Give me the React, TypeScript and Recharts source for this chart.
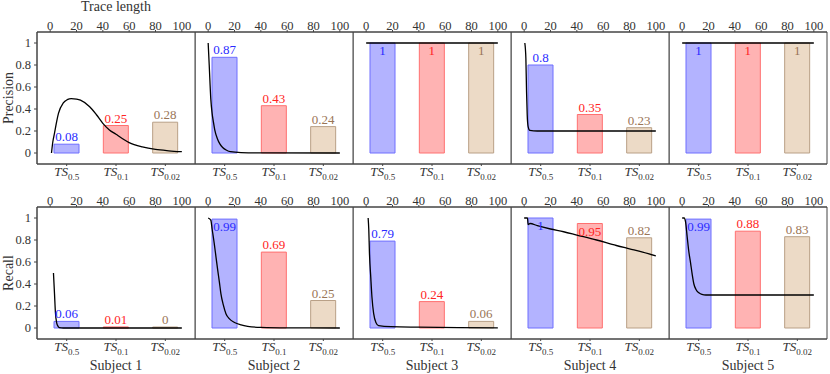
import React from 'react';
import { ComposedChart, Bar, Line, XAxis, YAxis, Cell, LabelList, ReferenceArea } from 'recharts';

const subjects = ['Subject 1', 'Subject 2', 'Subject 3', 'Subject 4', 'Subject 5'];
const thresholds = ['0.5', '0.1', '0.02'];
const traceTicks = [0, 20, 40, 60, 80, 100];
const valueTicks = [0, 0.2, 0.4, 0.6, 0.8, 1];

// bar heights per subject: TS_0.5, TS_0.1, TS_0.02
const precision = [
  [0.08, 0.25, 0.28],
  [0.87, 0.43, 0.24],
  [1, 1, 1],
  [0.8, 0.35, 0.23],
  [1, 1, 1],
];
const recall = [
  [0.06, 0.01, 0],
  [0.99, 0.69, 0.25],
  [0.79, 0.24, 0.06],
  [1, 0.95, 0.82],
  [0.99, 0.88, 0.83],
];

// curves over trace length: [trace length, value]
const precisionCurves = [
  [[1, 0], [2, 0.1], [3.3, 0.18], [5, 0.29], [6.3, 0.36], [10, 0.455], [13, 0.485], [16, 0.495], [20, 0.49], [23, 0.48],
   [30, 0.42], [35, 0.35], [40, 0.27], [45, 0.21], [50, 0.17], [55, 0.13], [60, 0.095], [70, 0.055], [80, 0.032], [90, 0.02], [100, 0.012]],
  [[0, 1], [0.8, 0.8], [2, 0.49], [3, 0.36], [4, 0.28], [5, 0.21], [7, 0.13], [9, 0.08], [11, 0.05], [14, 0.025],
   [17, 0.012], [25, 0.004], [40, 0.001], [100, 0]],
  [[0, 1], [50, 1], [100, 1]],
  [[0.5, 1], [1.3, 0.86], [1.8, 0.56], [2.3, 0.35], [3, 0.24], [4.3, 0.205], [10, 0.2], [100, 0.2]],
  [[0, 1], [50, 1], [100, 1]],
];
const recallCurves = [
  [[2.5, 0.5], [3.3, 0.31], [4, 0.14], [5, 0.045], [6, 0.015], [7, 0.004], [10, 0], [100, 0]],
  [[0, 1], [2, 0.98], [3, 0.9], [4.6, 0.77], [6, 0.64], [7.2, 0.53], [8.5, 0.42], [9.7, 0.31], [11.5, 0.21], [13.5, 0.13],
   [16, 0.085], [20, 0.05], [25, 0.028], [30, 0.015], [40, 0.005], [60, 0.001], [100, 0]],
  [[1.5, 1], [2, 0.89], [2.5, 0.68], [3.5, 0.46], [4.4, 0.28], [5.7, 0.13], [7.4, 0.05], [9.4, 0.022], [19, 0.012],
   [40, 0.008], [70, 0.004], [100, 0.002]],
  [[0, 1], [2.5, 1], [3, 0.94], [4.5, 0.95], [10, 0.93], [20, 0.9], [30, 0.875], [40, 0.845], [55, 0.8], [70, 0.75],
   [80, 0.72], [90, 0.69], [100, 0.655]],
  [[0, 1], [1.5, 1], [2.5, 0.97], [3.8, 0.83], [5, 0.7], [6.4, 0.59], [7.6, 0.49], [8.9, 0.4], [10.5, 0.35], [12.7, 0.32],
   [15, 0.305], [18, 0.3], [100, 0.3]],
];

const FONT = '"Liberation Serif", "DejaVu Serif", serif';
const TXT = '#333';
const AXIS = '#444';
const fills = ['#b3b3ff', '#ffb3b3', '#ecdac6'];
const strokes = ['#6f6fff', '#ff7070', '#b9a087'];
const labelColors = ['#2a2aff', '#ff2525', '#9a7556'];

const PLOT_W = 158;
const PLOT_H = 132;
const LEFT = 37;
const TOP_H = [32, 22];
const BOTTOM_H = [21, 35];
const X_DOMAIN = [-10, 110];
const Y_DOMAIN = [-0.1, 1.1];

const lineStyle = { stroke: AXIS, strokeWidth: 1 };

const ThresholdTick = (props: any) => {
  const { x, y, payload } = props;
  return (
    <text x={x} y={y + 10} textAnchor="middle" fill={TXT} fontFamily={FONT}>
      <tspan fontStyle="italic" fontSize={13}>TS</tspan>
      <tspan fontSize={9} dy={3.5}>{payload.value}</tspan>
    </text>
  );
};

const ValueLabel = (props: any) => {
  const vb = props.viewBox || props;
  const { x, y, width } = vb;
  const inside = Number(props.value) >= 0.95;
  return (
    <text
      x={x + width / 2}
      y={inside ? y + 12 : y - 3}
      textAnchor="middle"
      fill={labelColors[props.index]}
      fontSize={13}
      fontFamily={FONT}
    >
      {String(props.value)}
    </text>
  );
};

const Panel = ({ row, col }: { row: number; col: number }) => {
  const values = (row === 0 ? precision : recall)[col];
  const curve = (row === 0 ? precisionCurves : recallCurves)[col].map(([x, y]) => ({ x, y }));
  const bars = thresholds.map((t, i) => ({ name: t, v: values[i] }));
  const first = col === 0;
  const width = (first ? LEFT : 0) + PLOT_W + 1;
  const height = TOP_H[row] + PLOT_H + BOTTOM_H[row];

  return (
    <div style={{ position: 'absolute', left: first ? 0 : LEFT + col * PLOT_W, top: row === 0 ? 0 : 185 }}>
      <ComposedChart width={width} height={height} data={bars} margin={{ top: 0, right: 1, bottom: 0, left: 0 }}>
        <XAxis
          xAxisId="trace"
          type="number"
          dataKey="x"
          orientation="top"
          domain={X_DOMAIN}
          allowDataOverflow
          ticks={traceTicks}
          interval={0}
          height={TOP_H[row]}
          axisLine={lineStyle}
          tickLine={lineStyle}
          tickSize={2}
          tickMargin={0}
          tick={{ fill: TXT, fontSize: 12.5, fontFamily: FONT }}
          label={row === 0 && first
            ? { value: 'Trace length', position: 'insideTop', offset: 1, fill: TXT, fontSize: 14, fontFamily: FONT }
            : undefined}
        />
        <XAxis
          xAxisId="cat"
          dataKey="name"
          orientation="bottom"
          height={BOTTOM_H[row]}
          padding={{ left: 5, right: 5 }}
          interval={0}
          axisLine={lineStyle}
          tickLine={lineStyle}
          tickSize={2}
          tickMargin={0}
          tick={<ThresholdTick />}
          label={row === 1
            ? { value: subjects[col], position: 'insideBottom', offset: 4, fill: TXT, fontSize: 14, fontFamily: FONT }
            : undefined}
        />
        <YAxis
          yAxisId="v"
          type="number"
          domain={Y_DOMAIN}
          allowDataOverflow
          ticks={valueTicks}
          interval={0}
          width={first ? LEFT : 0}
          mirror={!first}
          axisLine={lineStyle}
          tickLine={lineStyle}
          tickSize={3}
          tickMargin={3}
          tick={first ? { fill: TXT, fontSize: 12.5, fontFamily: FONT } : false}
          label={first
            ? {
                value: row === 0 ? 'Precision' : 'Recall',
                angle: -90,
                position: 'insideLeft',
                offset: 8,
                style: { textAnchor: 'middle' },
                fill: TXT,
                fontSize: 14,
                fontFamily: FONT,
              }
            : undefined}
        />
        <YAxis
          yAxisId="r"
          orientation="right"
          type="number"
          domain={Y_DOMAIN}
          ticks={valueTicks}
          interval={0}
          width={0}
          mirror
          axisLine={lineStyle}
          tickLine={lineStyle}
          tickSize={3}
          tick={false}
        />
        <ReferenceArea
          xAxisId="trace"
          yAxisId="v"
          x1={X_DOMAIN[0]}
          x2={X_DOMAIN[1]}
          y1={Y_DOMAIN[0]}
          y2={Y_DOMAIN[1]}
          fill="none"
          fillOpacity={0}
          stroke={AXIS}
          strokeWidth={1}
          ifOverflow="visible"
        />
        <Bar xAxisId="cat" yAxisId="v" dataKey="v" barSize={25} minPointSize={1} isAnimationActive={false}>
          {bars.map((_, i) => (
            <Cell key={i} fill={fills[i]} stroke={strokes[i]} strokeWidth={1} />
          ))}
          <LabelList dataKey="v" content={ValueLabel} />
        </Bar>
        <Line
          xAxisId="trace"
          yAxisId="v"
          data={curve}
          dataKey="y"
          type="monotone"
          stroke="#000"
          strokeWidth={1.3}
          dot={false}
          isAnimationActive={false}
        />
      </ComposedChart>
    </div>
  );
};

export default function App() {
  return (
    <div style={{ position: 'absolute', left: 0, top: 0, width: 830, height: 374, background: '#fff', fontFamily: FONT }}>
      {[0, 1].map((row) =>
        [0, 1, 2, 3, 4].map((col) => <Panel key={`${row}-${col}`} row={row} col={col} />)
      )}
    </div>
  );
}
